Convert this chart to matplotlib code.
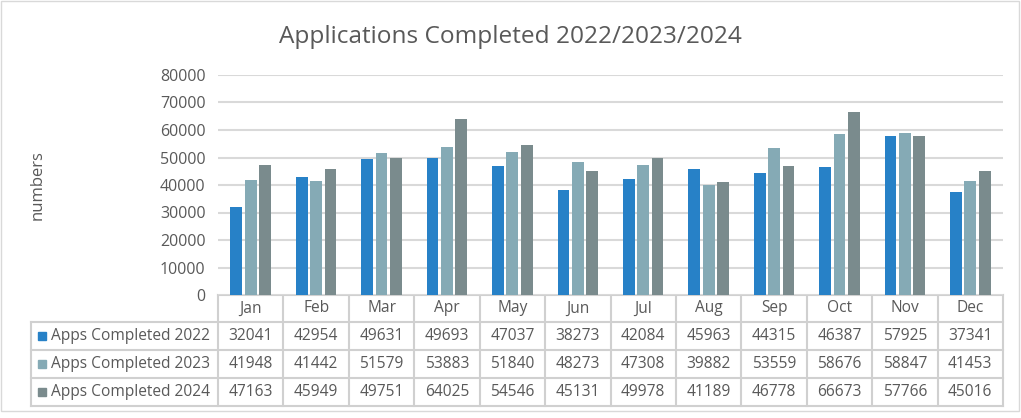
import matplotlib.pyplot as plt
import numpy as np

months = ['Jan', 'Feb', 'Mar', 'Apr', 'May', 'Jun', 'Jul', 'Aug', 'Sep', 'Oct', 'Nov', 'Dec']
apps_2022 = [32041, 42954, 49631, 49693, 47037, 38273, 42084, 45963, 44315, 46387, 57925, 37341]
apps_2023 = [41948, 41442, 51579, 53883, 51840, 48273, 47308, 39882, 53559, 58676, 58847, 41453]
apps_2024 = [47163, 45949, 49751, 64025, 54546, 45131, 49978, 41189, 46778, 66673, 57766, 45016]
series_names = ['Apps Completed 2022', 'Apps Completed 2023', 'Apps Completed 2024']
colors = ['#2781C7', '#85AAB5', '#7A8B8D']

plt.rcParams['font.family'] = ['Open Sans', 'DejaVu Sans']
txt = '#595959'
grid = '#D9D9D9'

W, H = 1021, 418
fig = plt.figure(figsize=(W / 100, H / 100), dpi=100)

# background axes in pixel coords for table + frame
bg = fig.add_axes([0, 0, 1, 1])
bg.set_xlim(0, W)
bg.set_ylim(H, 0)
bg.axis('off')
bg.add_patch(plt.Rectangle((1, 1), W - 3, 410, fill=False, ec=grid, lw=1))

# plot area
x0, x1 = 218, 1003
ytop, ybot = 75, 295
ax = fig.add_axes([x0 / W, 1 - ybot / H, (x1 - x0) / W, (ybot - ytop) / H])
n = len(months)
x = np.arange(n)
bw = 0.18
step = 0.22
for i, vals in enumerate([apps_2022, apps_2023, apps_2024]):
    ax.bar(x + (i - 1) * step, vals, width=bw, color=colors[i], zorder=3)
ax.set_xlim(-0.5, n - 0.5)
ax.set_ylim(0, 80000)
ax.set_yticks(range(0, 80001, 10000))
ax.yaxis.grid(True, color=grid, lw=1.5, zorder=0)
ax.set_xticks([])
for s in ax.spines.values():
    s.set_visible(False)
ax.tick_params(axis='y', length=0, labelsize=11.5, labelcolor=txt, pad=9)

fig.text(0.5, 1 - 37 / H, 'Applications Completed 2022/2023/2024', ha='center', va='center',
         fontsize=17.6, color=txt)
fig.text(38 / W, 1 - 185 / H, 'numbers', rotation=90, ha='center', va='center',
         fontsize=12, color=txt)

# data table
cw = (x1 - x0) / n
rows = [295, 322, 350, 378, 406]
lx = 31
lc = '#D0D0D0'
fs = 11.2
bg.plot([x0, x1], [rows[0], rows[0]], color=lc, lw=1.5)
for r in rows[1:]:
    bg.plot([lx, x1], [r, r], color=lc, lw=1.5)
bg.plot([lx, lx], [rows[1], rows[-1]], color=lc, lw=1.5)
for j in range(n + 1):
    bg.plot([x0 + j * cw] * 2, [rows[0], rows[-1]], color=lc, lw=1.5)
for j, m in enumerate(months):
    bg.text(x0 + (j + 0.5) * cw, (rows[0] + rows[1]) / 2, m, ha='center', va='center',
            fontsize=fs, color=txt)
for i, vals in enumerate([apps_2022, apps_2023, apps_2024]):
    yc = (rows[i + 1] + rows[i + 2]) / 2
    bg.add_patch(plt.Rectangle((38, yc - 4), 8, 8, color=colors[i]))
    bg.text(51, yc, series_names[i], ha='left', va='center', fontsize=fs, color=txt)
    for j, v in enumerate(vals):
        bg.text(x0 + (j + 0.5) * cw, yc, str(v), ha='center', va='center', fontsize=fs, color=txt)

fig.savefig('out.png', dpi=100)
